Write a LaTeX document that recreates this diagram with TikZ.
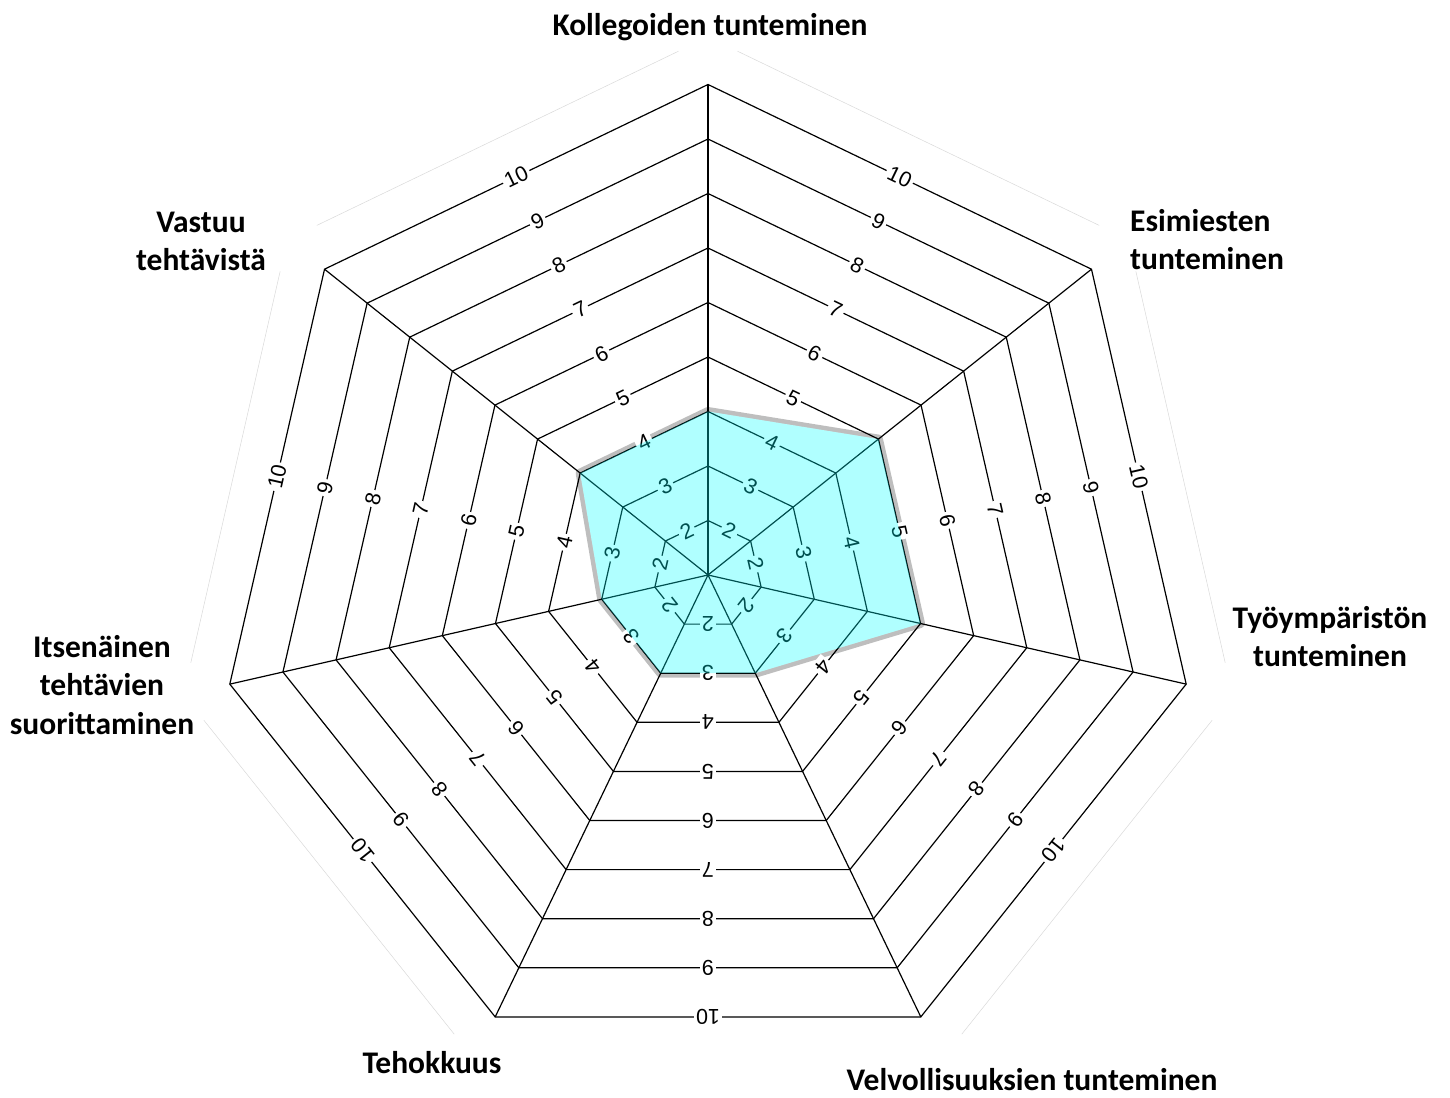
\documentclass[tikz,border=0pt]{standalone}
\usepackage{fontspec}
\setmainfont{Liberation Sans}
\newfontfamily\catfont{Carlito}
\usetikzlibrary{calc}
\definecolor{aqua}{RGB}{0,255,255}
\definecolor{outlinegray}{RGB}{190,190,190}
\begin{document}
\begin{tikzpicture}[x=1pt,y=1pt,
  gridline/.style={draw=black, line width=1.2pt, line join=miter},
  faintline/.style={draw=gray!30, line width=0.5pt},
  ticklab/.style={font=\fontsize{21.5}{21.5}\selectfont, fill=white, inner sep=2.5pt},
  catlab/.style={font=\catfont\bfseries\fontsize{31.5}{38.5}\selectfont, align=center, inner sep=0pt},
  dataoutline/.style={draw=outlinegray, line width=9pt, line join=round},
  datafill/.style={fill=aqua, fill opacity=0.31},
]
\useasboundingbox (-708,-522) rectangle (742,575);
\def\lev{54.5}
\def\dpath{(90:163.5) -- ({90-360/7}:218) -- ({90-2*360/7}:218) -- ({90-3*360/7}:109) -- ({90-4*360/7}:109) -- ({90-5*360/7}:109) -- ({90-6*360/7}:163.5) -- cycle}

% faint outer lines
\foreach \i in {0,1,2,4,5,6} {
  \pgfmathsetmacro\aa{90-\i*360/7}
  \pgfmathsetmacro\ab{90-(\i+1)*360/7}
  \coordinate (fa\i) at ($(\aa:538)!0.07!(\ab:538)$);
  \coordinate (fb\i) at ($(\aa:538)!0.93!(\ab:538)$);
  \draw[faintline] (fa\i) -- (fb\i);
}

% data outline (outer half only)
\draw[dataoutline] \dpath;
\fill[white] \dpath;

% rings
\foreach \k in {2,...,10} {
  \pgfmathsetmacro\rr{(\k-1)*\lev}
  \draw[gridline] (90:\rr) -- ({90-360/7}:\rr) -- ({90-2*360/7}:\rr) -- ({90-3*360/7}:\rr) -- ({90-4*360/7}:\rr) -- ({90-5*360/7}:\rr) -- ({90-6*360/7}:\rr) -- cycle;
}

% spokes
\coordinate (c) at (0,0);
\foreach \i in {0,...,6} {
  \coordinate (s\i) at ({90-\i*360/7}:{9*\lev});
  \draw[gridline] (c) -- (s\i);
}

% tick labels
\foreach \k in {2,...,10} {
  \foreach \i in {0,...,6} {
    \pgfmathsetmacro\mm{90-(\i+0.5)*360/7}
    \pgfmathsetmacro\dd{(\k-1)*\lev*cos(180/7)}
    \pgfmathsetmacro\rot{\mm-90}
    \node[ticklab, rotate=\rot] (t\k-\i) at (\mm:\dd) {\k};
  }
}

% data fill
\fill[datafill] \dpath;

% category labels
\node[catlab] (k1) at (2,548) {Kollegoiden tunteminen};
\node[catlab, anchor=west, align=left] (k2) at (422,335.5) {Esimiesten\\tunteminen};
\node[catlab] (k3) at (622,-61.5) {Työympäristön\\tunteminen};
\node[catlab] (k4) at (324,-505) {Velvollisuuksien tunteminen};
\node[catlab] (k5) at (-276,-488) {Tehokkuus};
\node[catlab] (k6) at (-606,-110) {Itsenäinen\\tehtävien\\suorittaminen};
\node[catlab] (k7) at (-507,333.5) {Vastuu\\tehtävistä};
\end{tikzpicture}
\end{document}
